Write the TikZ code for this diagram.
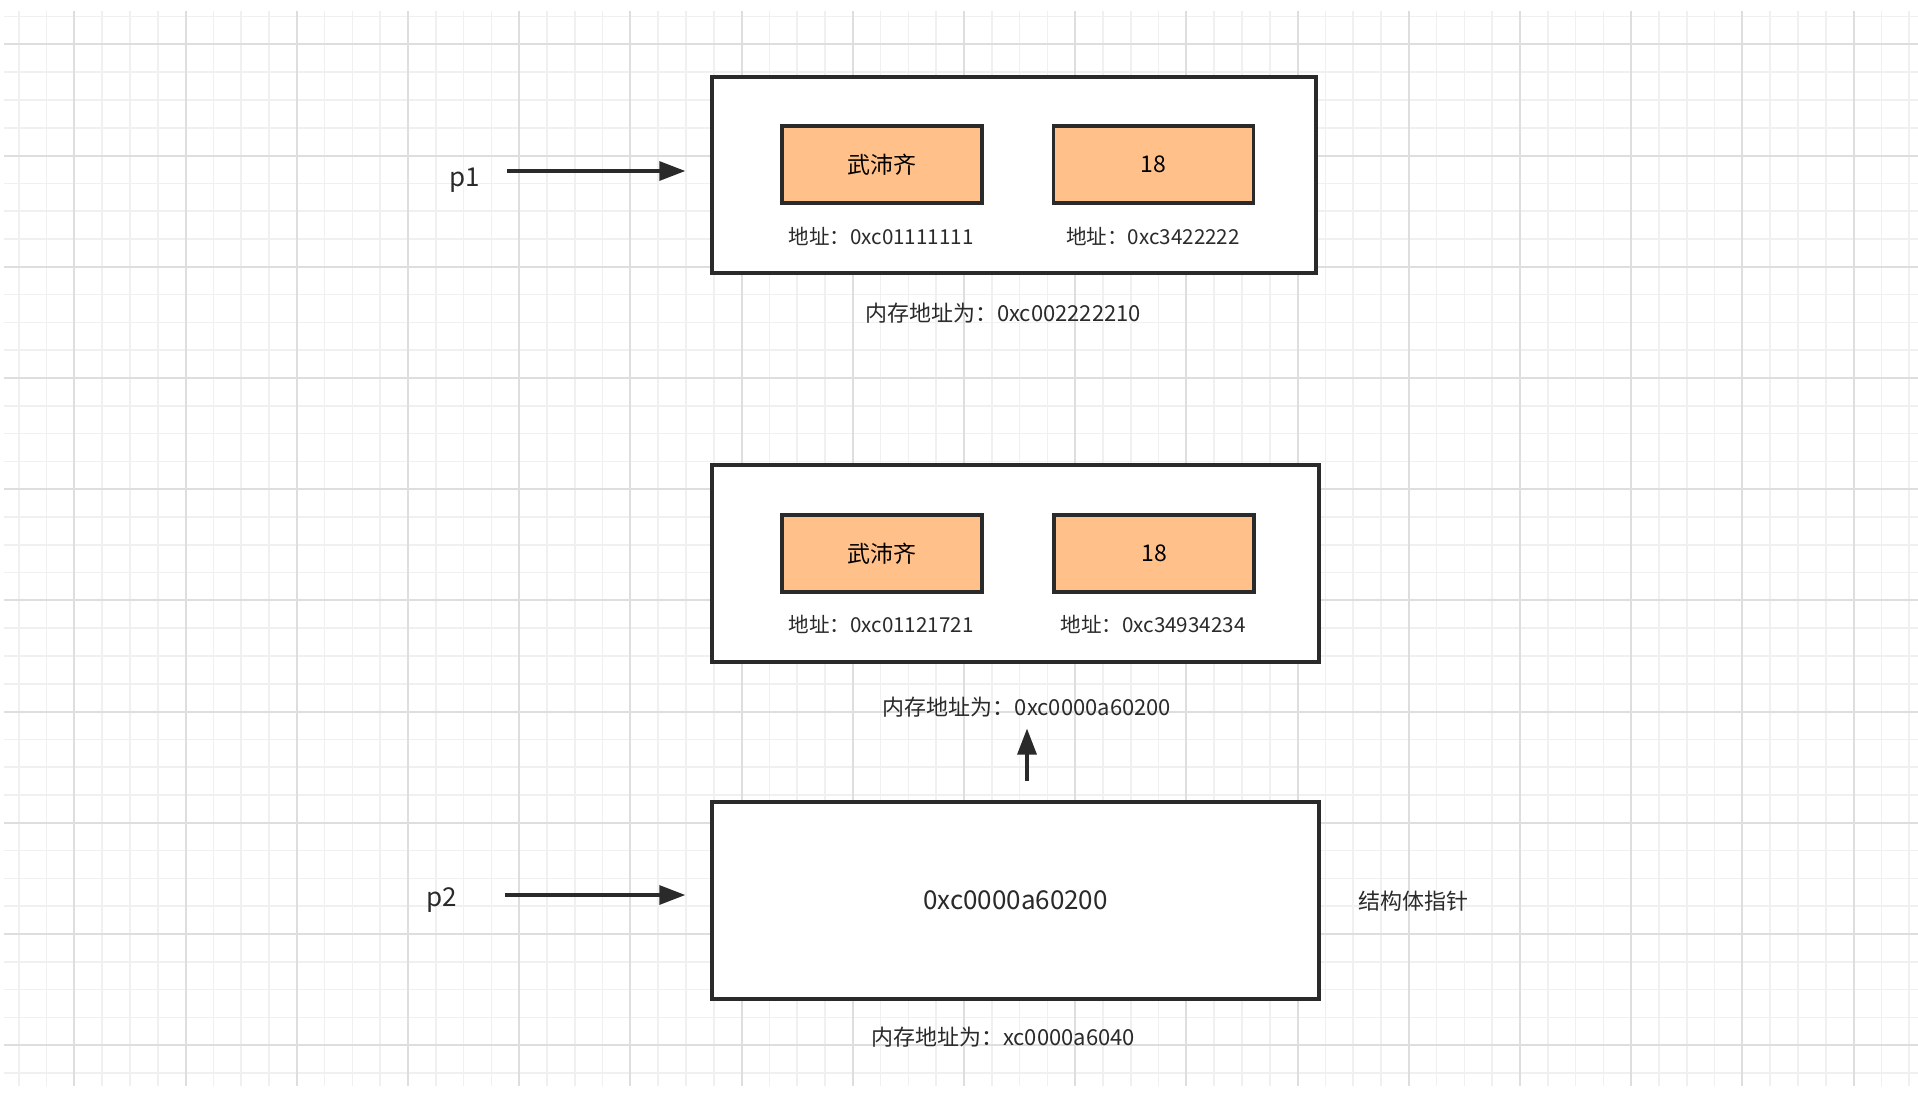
\documentclass[tikz,border=0pt]{standalone}
\usepackage{fontspec}
\setmainfont{Noto Sans CJK SC}
\usetikzlibrary{arrows.meta}

\definecolor{gridminor}{HTML}{F0F0F0}
\definecolor{gridmajor}{HTML}{DEDEDE}
\definecolor{fieldfill}{HTML}{FFC08A}
\definecolor{ink}{HTML}{2A2A2A}

\tikzset{
  outerbox/.style={draw=ink, line width=1.7pt, fill=white, inner sep=0pt},
  fieldbox/.style={draw=ink, line width=1.7pt, fill=fieldfill, inner sep=0pt,
    minimum width=100pt, minimum height=38.5pt, font=\fontsize{11.5}{13}\selectfont},
  addr/.style={inner sep=0pt, text=ink, font=\fontsize{11}{13}\selectfont},
  fieldaddr/.style={addr, font=\fontsize{10.3}{12}\selectfont},
  big/.style={inner sep=0pt, text=ink, font=\fontsize{13}{15}\selectfont},
  ptr/.style={draw=ink, line width=1.6pt, -{Triangle[length=13pt,width=9.5pt]}}
}

\begin{document}
\begin{tikzpicture}[x=0.5pt,y=-0.5pt]
\useasboundingbox (0,0) rectangle (1918,1094);
\fill[white] (0,0) rectangle (1918,1094);

% grid
\foreach \i [evaluate=\i as \gx using 18.7+27.8*\i] in {0,...,68}
  \draw[gridminor, line width=0.8pt] (\gx,11) -- (\gx,1086);
\foreach \j [evaluate=\j as \gy using 16.5+27.8*\j] in {0,...,38}
  \draw[gridminor, line width=0.8pt] (4,\gy) -- (1918,\gy);
\foreach \i [evaluate=\i as \gx using 74.3+111.2*\i] in {0,...,16}
  \draw[gridmajor, line width=1pt] (\gx,11) -- (\gx,1086);
\foreach \j [evaluate=\j as \gy using 44.3+111.2*\j] in {0,...,9}
  \draw[gridmajor, line width=1pt] (4,\gy) -- (1918,\gy);

% first struct
\node[outerbox, minimum width=302pt, minimum height=98pt] (box1) at (1014,175) {};
\node[fieldbox] (name1) at (882,164.5) {武沛齐};
\node[fieldbox] (age1) at (1153.5,164.5) {18};
\node[fieldaddr] (addrname1) at (881,236) {地址：0xc01111111};
\node[fieldaddr] (addrage1) at (1153,236) {地址：0xc3422222};
\node[addr] (mem1) at (1003,313) {内存地址为：0xc002222210};
\node[big] (p1) at (465,180) {p1};
\draw[ptr, shorten <=13pt, shorten >=12.5pt] ([yshift=4.5pt]p1.east) -- ([yshift=4.5pt]p1.east -| box1.west);

% second struct
\node[outerbox, minimum width=303.5pt, minimum height=98.5pt] (box2) at (1015.5,563.5) {};
\node[fieldbox] (name2) at (882,553.5) {武沛齐};
\node[fieldbox] (age2) at (1154,553.5) {18};
\node[fieldaddr] (addrname2) at (881,624) {地址：0xc01121721};
\node[fieldaddr] (addrage2) at (1153,624) {地址：0xc34934234};
\node[addr] (mem2) at (1027,707) {内存地址为：0xc0000a60200};

% pointer
\node[outerbox, minimum width=303.5pt, minimum height=98.5pt, font=\fontsize{13}{15}\selectfont, text=ink] (box3) at (1015.5,900.5) {0xc0000a60200};
\node[addr] (mem3) at (1003,1037) {内存地址为：xc0000a6040};
\node[addr] (kind) at (1413,901) {结构体指针};
\node[big] (p2) at (442,900) {p2};
\draw[ptr, shorten <=23.5pt, shorten >=12.5pt] ([yshift=2.5pt]p2.east) -- ([yshift=2.5pt]p2.east -| box3.west);
\draw[ptr, shorten <=9.5pt, shorten >=5.5pt] (box3.north -| mem2) -- (mem2.south);
\end{tikzpicture}
\end{document}
